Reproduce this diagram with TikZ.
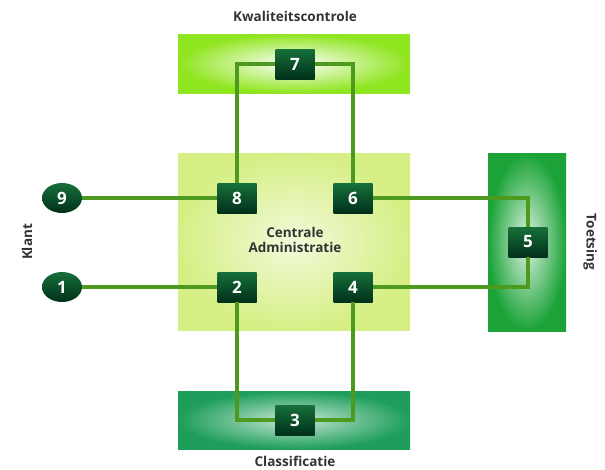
\documentclass[tikz,border=0pt]{standalone}
\usepackage{fontspec}
\setmainfont{Open Sans}
\usetikzlibrary{shapes.geometric}
\definecolor{wirecol}{HTML}{4E9A1F}
\definecolor{nodetop}{HTML}{17703A}
\definecolor{nodebot}{HTML}{00301A}
\definecolor{capcol}{HTML}{333333}
\definecolor{kwalcol}{HTML}{8FE51E}
\definecolor{admincol}{HTML}{D5EF85}
\definecolor{toetscol}{HTML}{1BA338}
\definecolor{classcol}{HTML}{1E9E5A}
\tikzset{%
  stage/.style={rectangle, minimum width=39pt, minimum height=30pt, inner sep=0pt,
    top color=nodetop, bottom color=nodebot, text=white,
    font=\bfseries\fontsize{17}{17}\selectfont},
  endpoint/.style={stage, ellipse, minimum width=40pt, minimum height=30pt},
  wire/.style={draw=wirecol, line width=3.5pt},
  caption/.style={font=\bfseries\fontsize{13.5}{15.5}\selectfont, text=capcol, align=center}%
}

\begin{document}
\begin{tikzpicture}[x=1pt, y=-1pt]
\useasboundingbox (0,0) rectangle (605,469);

% areas
\shade[inner color=white, outer color=kwalcol] (178,34) rectangle (410,93);
\shade[inner color=white!70!admincol, outer color=admincol] (178,153) rectangle (410,330);
\shade[inner color=white!85!toetscol, outer color=toetscol] (488,153) rectangle (566,331);
\shade[inner color=white!75!classcol, outer color=classcol] (178,391) rectangle (410,449);

\node[caption] (kwal) at (295,16) {Kwaliteitscontrole};
\node[caption] (admin) at (295,240) {Centrale\\Administratie};
\node[caption] (class) at (295,461) {Classificatie};
\node[caption, rotate=90] (klant) at (27,242) {Klant};
\node[caption, rotate=-90] (toets) at (590,242) {Toetsing};

\node[endpoint] (n9) at (62,198) {9};
\node[endpoint] (n1) at (62,287) {1};
\node[stage] (n8) at (237,198) {8};
\node[stage] (n2) at (237,287) {2};
\node[stage] (n6) at (353,198) {6};
\node[stage] (n4) at (353,287) {4};
\node[stage] (n7) at (295,64) {7};
\node[stage] (n3) at (295,420) {3};
\node[stage] (n5) at (528,242) {5};

\draw[wire]
	(n9) -- (n8)
	(n1) -- (n2)
	(n8) |- (n7)
	(n6) |- (n7)
	(n6) -| (n5)
	(n4) -| (n5)
	(n2) |- (n3)
	(n4) |- (n3)
;
\end{tikzpicture}
\end{document}
